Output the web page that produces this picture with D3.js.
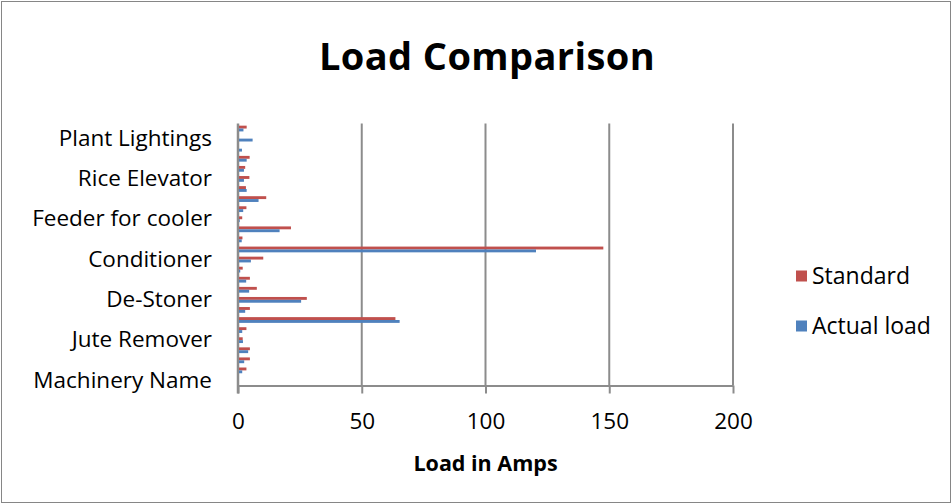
<!DOCTYPE html>
<html>
<head>
<meta charset="utf-8">
<script src="https://cdn.jsdelivr.net/npm/d3@7"></script>
<style>
    body { margin: 0; background: #fff; }
    text { font-family: "Open Sans", Lato, sans-serif; fill: #000; }
</style>
</head>
<body>
<div id="chart"></div>
<script>
// Categories as they sit in the sheet (first row ends up at the bottom)
const categories = [
    "Machinery Name", "Paddy Intake Elevator", "Pre-Cleaner", "Magnetic Separator",
    "Jute Remover", "Drum Sieve", "Paddy Elevator", "Aspirator",
    "De-Stoner", "Bucket Elevator", "Parboiling Pump", "Boiler Feed Pump",
    "Conditioner", "Dryer Blower", "Dryer Elevator", "Cooler Fan",
    "Feeder for cooler", "Husker", "Husk Aspirator", "Paddy Separator",
    "Rice Elevator", "Whitener", "Polisher", "Grader",
    "Plant Lightings", "Others"
];
const standardLoad = [0, 3.0, 4.4, 4.4, 1.5, 3.0, 63.2, 4.4, 27.4, 7.2, 4.4, 1.5, 9.8, 147.2, 1.4, 21.0, 1.3, 3.0, 11.0, 2.8, 4.2, 2.5, 4.3, 0, 0, 3.1];
const actualLoad = [0, 1.3, 2.1, 3.7, 1.6, 1.3, 64.9, 2.5, 25.1, 4.1, 2.9, 0.5, 4.8, 120.0, 1.1, 16.4, 0.3, 1.7, 7.9, 3.1, 2.0, 2.0, 3.1, 1.2, 5.5, 1.8];
const seriesNames = ["Standard", "Actual load"];
const seriesColors = ["#C0504D", "#4F81BD"];
const xTicks = [0, 50, 100, 150, 200];

const width = 952, height = 504;
const plot = { left: 238, right: 733, top: 123.5, bottom: 385.5 };
const labelSize = 22.5;

const svg = d3.select("#chart")
    .append("svg")
    .attr("width", width)
    .attr("height", height);

// chart border
svg.append("rect")
    .attr("x", 1.5).attr("y", 1.5)
    .attr("width", width - 3).attr("height", height - 3)
    .attr("fill", "#fff")
    .attr("stroke", "#868686");

const x = d3.scaleLinear().domain([0, 200]).range([plot.left, plot.right]);

// first category at the bottom
const y = d3.scaleBand()
    .domain(categories.slice().reverse())
    .range([plot.top, plot.bottom]);

const ySub = d3.scaleBand()
    .domain(seriesNames)
    .range([0, y.bandwidth()])
    .paddingInner(0)
    .paddingOuter(0.75);

// gridlines
svg.append("g")
    .selectAll("line")
    .data(xTicks.slice(1))
    .enter()
    .append("line")
    .attr("x1", d => x(d)).attr("x2", d => x(d))
    .attr("y1", plot.top).attr("y2", plot.bottom)
    .attr("stroke", "#8c8c8c")
    .attr("stroke-width", 2);

// x axis
const xAxis = svg.append("g")
    .attr("transform", `translate(0,${plot.bottom})`)
    .call(d3.axisBottom(x).tickValues(xTicks).tickSize(8).tickPadding(20).tickSizeOuter(0));
xAxis.select(".domain").attr("stroke", "#8c8c8c").attr("stroke-width", 2);
xAxis.selectAll(".tick line").attr("stroke", "#8c8c8c").attr("stroke-width", 2);
xAxis.selectAll(".tick text")
    .attr("font-size", labelSize)
    .attr("font-family", "'Open Sans', sans-serif");

// y axis, only every 4th label
const yAxis = svg.append("g")
    .attr("transform", `translate(${plot.left},0)`)
    .call(d3.axisLeft(y)
        .tickValues(categories.filter((d, i) => i % 4 === 0))
        .tickSize(0)
        .tickPadding(26));
yAxis.select(".domain").remove();
yAxis.selectAll(".tick text")
    .attr("font-size", labelSize)
    .attr("font-family", "'Open Sans', sans-serif");

svg.append("line")
    .attr("x1", plot.left).attr("x2", plot.left)
    .attr("y1", plot.top).attr("y2", plot.bottom + 8)
    .attr("stroke", "#8c8c8c")
    .attr("stroke-width", 2.5);

// bars
const rows = categories.map((c, i) => ({ name: c, values: [standardLoad[i], actualLoad[i]] }));

const groups = svg.append("g")
    .selectAll("g")
    .data(rows)
    .enter()
    .append("g")
    .attr("transform", d => `translate(0,${y(d.name)})`);

groups.selectAll("rect")
    .data(d => d.values.map((v, k) => ({ series: seriesNames[k], value: v, color: seriesColors[k] })))
    .enter()
    .append("rect")
    .attr("x", x(0) + 1)
    .attr("y", d => ySub(d.series))
    .attr("width", d => Math.max(0, x(d.value) - x(0)))
    .attr("height", ySub.bandwidth())
    .attr("fill", d => d.color);

// title
svg.append("text")
    .attr("x", 487).attr("y", 70)
    .attr("text-anchor", "middle")
    .attr("font-size", 38)
    .attr("font-weight", "bold")
    .attr("letter-spacing", 0.4)
    .text("Load Comparison");

svg.append("text")
    .attr("x", (plot.left + plot.right) / 2).attr("y", 471)
    .attr("text-anchor", "middle")
    .attr("font-size", 21.5)
    .attr("font-weight", "bold")
    .text("Load in Amps");

// legend
const legend = svg.append("g")
    .selectAll("g")
    .data(seriesNames)
    .enter()
    .append("g")
    .attr("transform", (d, i) => `translate(796,${276 + i * 50})`);

legend.append("rect")
    .attr("x", 0).attr("y", -5.5)
    .attr("width", 11).attr("height", 11)
    .attr("fill", (d, i) => seriesColors[i]);

legend.append("text")
    .attr("x", 16).attr("y", 0)
    .attr("dy", "0.35em")
    .attr("font-size", 23)
    .text(d => d);
</script>
</body>
</html>
